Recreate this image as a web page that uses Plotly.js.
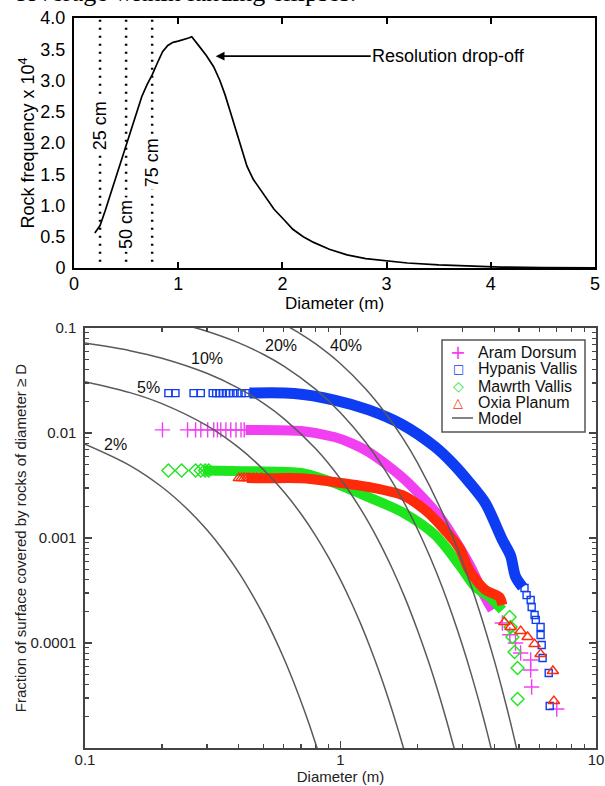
<!DOCTYPE html>
<html><head><meta charset="utf-8">
<script src="https://cdn.plot.ly/plotly-3.0.1.min.js"></script>
<style>html,body{margin:0;padding:0;background:#fff}#chart{width:605px;height:786px}</style>
</head><body><div id="chart"></div>
<script>
// ---------- Top panel: rock size-frequency ----------
const freqDiameter = [0.20,0.25,0.30,0.35,0.40,0.45,0.50,0.55,0.60,0.65,0.70,0.75,0.80,0.85,0.90,0.95,1.00,1.05,1.10,1.13,1.17,1.21,1.27,1.34,1.40,1.45,1.50,1.55,1.60,1.66,1.72,1.79,1.85,1.92,2.00,2.10,2.20,2.30,2.45,2.62,2.80,3.00,3.20,3.50,3.80,4.10,4.50,5.00];
const freqValue    = [0.56,0.68,0.92,1.18,1.43,1.69,1.94,2.20,2.46,2.74,2.93,3.09,3.28,3.46,3.56,3.61,3.63,3.65,3.68,3.70,3.62,3.53,3.40,3.22,3.00,2.77,2.50,2.22,1.95,1.63,1.42,1.25,1.10,0.94,0.80,0.62,0.50,0.41,0.30,0.21,0.15,0.11,0.08,0.05,0.03,0.015,0.008,0.004];
const resolutionLines  = [0.25, 0.5, 0.75];
const resolutionLabels = ['25 cm', '50 cm', '75 cm'];
const topYTicks = [0,0.5,1,1.5,2,2.5,3,3.5,4];
const topYTickText = ['0','0.5','1.0','1.5','2.0','2.5','3.0','3.5','4.0'];

// ---------- Bottom panel: cumulative fractional area ----------
const seriesNames = ['Aram Dorsum','Hypanis Vallis','Mawrth Vallis','Oxia Planum'];

const aramPtsD  = [0.201,0.252,0.271,0.284,0.302,0.319,0.330,0.340,0.356,0.372,0.390,0.408,0.420,4.30,4.60,4.84,5.07,5.55,5.55,5.60,7.02];
const aramPtsF  = [0.0107,0.0107,0.0107,0.0107,0.0107,0.0107,0.0107,0.0107,0.0107,0.0107,0.0107,0.0107,0.0107,0.000155,0.00012,0.0001,0.0000803,0.0000689,0.0000553,0.0000381,0.0000235];
const aramBandD = [0.425,0.702,0.946,1.10,1.289,1.738,2.14,2.50,2.92,3.28,3.59,3.93];
const aramBandF = [0.0107,0.01045,0.00916,0.0080,0.00659,0.00381,0.0023,0.00148,0.00082,0.000495,0.000306,0.000206];

const hypPtsD  = [0.212,0.226,0.266,0.284,0.316,0.326,0.336,0.346,0.356,0.366,0.380,0.395,0.410,0.425,5.25,5.35,5.55,5.60,5.75,5.81,6.07,6.07,6.13,6.18,6.53,6.59];
const hypPtsF  = [0.024,0.024,0.024,0.024,0.024,0.024,0.024,0.024,0.024,0.024,0.024,0.024,0.024,0.024,0.000334,0.000286,0.000257,0.00022,0.000185,0.000166,0.000142,0.000119,0.0000957,0.0000719,0.0000518,0.0000251];
const hypBandD = [0.44,0.659,0.946,1.289,1.738,2.344,2.736,3.19,3.69,4.30,4.63,4.84,5.16];
const hypBandF = [0.024,0.0238,0.0206,0.0166,0.0121,0.0074,0.0052,0.0034,0.00215,0.00096,0.00068,0.00043,0.00034];

const mawPtsD  = [0.212,0.239,0.271,0.284,0.295,0.305,4.59,4.63,4.71,4.80,4.93,4.93];
const mawPtsF  = [0.00440,0.00440,0.00440,0.00440,0.00440,0.00440,0.000177,0.000142,0.000114,0.000082,0.0000578,0.0000293];
const mawBandD = [0.29,0.447,0.702,0.946,1.289,1.738,2.344,2.92,3.37,3.83,4.30];
const mawBandF = [0.00440,0.00432,0.00416,0.00334,0.00245,0.00177,0.00107,0.000553,0.000341,0.000274,0.000206];

const oxiPtsD  = [0.40,0.41,0.42,0.43,0.44,0.455,0.47,0.49,4.38,4.63,5.07,5.40,5.75,6.07,6.78,6.84];
const oxiPtsF  = [0.00372,0.00372,0.00372,0.00372,0.00372,0.00372,0.00372,0.00372,0.000158,0.000142,0.00013,0.000114,0.0000977,0.0000785,0.0000541,0.000028];
const oxiBandD = [0.43,0.521,0.702,0.946,1.289,1.738,2.14,2.50,2.92,3.19,3.69,4.19,4.30];
const oxiBandF = [0.00372,0.00371,0.00370,0.00341,0.00306,0.00257,0.00185,0.00127,0.000803,0.000495,0.00032,0.000274,0.00023];

// Model curves (rock abundance k)
const modelLabels = ['2%','5%','10%','20%','40%'];
const model2D  = [0.10,0.15,0.20,0.25,0.30,0.35,0.40,0.45,0.50,0.55,0.60,0.65,0.70,0.75,0.80,0.85];
const model2F  = [0.00782,0.00489,0.00306,0.00191,0.001196,0.000748,0.000468,0.000292,0.000183,0.0001143,0.0000715,0.0000447,0.0000279,0.0000175,0.0000109,0.00000683];
const model5D  = [0.10,0.15,0.20,0.30,0.40,0.50,0.60,0.70,0.80,0.90,1.0,1.1,1.2,1.3,1.4,1.5,1.6,1.7,1.8];
const model5F  = [0.03084,0.02423,0.01903,0.01174,0.007245,0.004468,0.002756,0.0017,0.001049,0.000647,0.000399,0.000246,0.000152,0.0000937,0.0000578,0.0000357,0.000022,0.0000136,0.0000084];
const model10D = [0.10,0.15,0.20,0.30,0.40,0.50,0.60,0.80,1.0,1.2,1.4,1.6,1.8,2.0,2.2,2.4,2.6,2.8];
const model10F = [0.07182,0.06087,0.05158,0.03705,0.02661,0.01911,0.01372,0.007078,0.003652,0.001884,0.000972,0.000501,0.000259,0.000133,0.0000688,0.0000355,0.0000183,0.00000945];
const model20D = [0.25,0.30,0.40,0.50,0.60,0.80,1.0,1.25,1.5,1.75,2.0,2.25,2.5,2.75,3.0,3.25,3.5,3.75,4.0];
const model20F = [0.1057,0.09306,0.07213,0.05589,0.0433,0.026,0.01562,0.008252,0.004362,0.002305,0.001219,0.000644,0.000341,0.00018,0.0000952,0.0000503,0.0000266,0.0000141,0.00000744];
const model40D = [0.60,0.70,0.80,1.0,1.25,1.5,1.75,2.0,2.5,3.0,3.5,4.0,4.25,4.5,4.75,5.0];
const model40F = [0.1088,0.08757,0.07049,0.04566,0.02654,0.01543,0.00897,0.005215,0.001762,0.000596,0.000201,0.000068,0.0000395,0.000023,0.0000134,0.00000777];

const bottomXTicks = [0.1,1,10];
const bottomXTickText = ['0.1','1','10'];
const bottomYTicks = [0.0001,0.001,0.01,0.1];
const bottomYTickText = ['0.0001','0.001','0.01','0.1'];

// ---------- styling ----------
const SANS = 'Liberation Sans, Arial, Helvetica, sans-serif';
const colors = {aram:'#f23ff2', hyp:'#0d3cf2', maw:'#1ee61e', oxi:'#ff2a0a', model:'#5a5a5a'};

const minorX = [];
[0.1,1].forEach(d=>{for(let m=2;m<=9;m++) minorX.push(+(d*m).toPrecision(3));});
const minorY = [];
[1e-5,1e-4,1e-3,1e-2].forEach(d=>{for(let m=2;m<=9;m++) minorY.push(+(d*m).toPrecision(3));});

const traces = [];
// top curve
traces.push({x:freqDiameter, y:freqValue, xaxis:'x', yaxis:'y', type:'scatter', mode:'lines',
  line:{color:'#000', width:1.7}, showlegend:false, hoverinfo:'skip'});

function band(D,F,color,w,name){
  return {x:D, y:F, xaxis:'x2', yaxis:'y2', type:'scatter', mode:'lines', name:name,
    line:{color:color, width:w, shape:'spline', smoothing:0.8}, showlegend:false, hoverinfo:'skip'};
}
function pts(D,F,color,symbol,size,name){
  return {x:D, y:F, xaxis:'x2', yaxis:'y2', type:'scatter', mode:'markers', name:name,
    marker:{symbol:symbol, size:size, color:color, line:{color:color, width:1.4}}, showlegend:false};
}
traces.push(band(aramBandD, aramBandF, colors.aram, 10, seriesNames[0]));
traces.push(pts(aramPtsD, aramPtsF, colors.aram, 'cross-thin-open', 11, seriesNames[0]));
traces.push(band(hypBandD, hypBandF, colors.hyp, 11, seriesNames[1]));
traces.push(pts(hypPtsD, hypPtsF, colors.hyp, 'square-open', 7, seriesNames[1]));
traces.push(band(mawBandD, mawBandF, colors.maw, 10, seriesNames[2]));
traces.push(pts(mawPtsD, mawPtsF, colors.maw, 'diamond-open', 10, seriesNames[2]));
traces.push(band(oxiBandD, oxiBandF, colors.oxi, 10, seriesNames[3]));
traces.push(pts(oxiPtsD, oxiPtsF, colors.oxi, 'triangle-up-open', 10, seriesNames[3]));

const modelD = [model2D, model5D, model10D, model20D, model40D];
const modelF = [model2F, model5F, model10F, model20F, model40F];
modelD.forEach((D,i)=>{
  traces.push({x:D, y:modelF[i], xaxis:'x2', yaxis:'y2', type:'scatter', mode:'lines',
    name:'Model '+modelLabels[i], line:{color:colors.model, width:1.5, shape:'spline', smoothing:1},
    showlegend:false, hoverinfo:'skip'});
});

// ---------- layout ----------
const W = 605, H = 786;
const px = v => v / W;
const py = v => (H - v) / H;

const shapes = [];
resolutionLines.forEach(v=>{
  shapes.push({type:'line', xref:'x', yref:'y', x0:v, x1:v, y0:0.1, y1:3.98,
    line:{color:'#000', width:2.5, dash:'2px,6px'}});
});
// manual legend box
shapes.push({type:'rect', xref:'paper', yref:'paper', x0:px(442), x1:px(585), y0:py(432), y1:py(340),
  line:{color:'#555', width:1.5}, fillcolor:'#fff', layer:'above'});
shapes.push({type:'line', xref:'paper', yref:'paper', x0:px(452), x1:px(473), y0:py(418), y1:py(418),
  line:{color:colors.model, width:1.5}, layer:'above'});

const annotations = [];
// cut-off caption fragment at top
annotations.push({xref:'paper', yref:'paper', x:px(12), y:py(9), xanchor:'left', yanchor:'bottom',
  text:'coverage within landing ellipses.', showarrow:false,
  font:{family:'Liberation Serif, Times New Roman, serif', size:26, color:'#000'}});
const resLabelY = [2.27, 0.69, 1.68];
resolutionLabels.forEach((t,i)=>{
  annotations.push({xref:'x', yref:'y', x:resolutionLines[i], y:resLabelY[i], text:t, textangle:-90,
    showarrow:false, bgcolor:'#fff', borderpad:2, font:{family:SANS, size:18, color:'#000'}});
});
annotations.push({xref:'x', yref:'y', x:1.36, y:3.39, text:'Resolution drop-off', showarrow:true,
  arrowhead:2, arrowsize:1.1, arrowwidth:1.6, arrowcolor:'#000', ax:233, ay:0, standoff:0,
  font:{family:SANS, size:18, color:'#000'}});
// model labels (log coordinates)
const modelLabelPos = [[-0.882,-2.114],[-0.752,-1.571],[-0.524,-1.295],[-0.232,-1.162],[0.0197,-1.162]];
modelLabels.forEach((t,i)=>{
  annotations.push({xref:'x2', yref:'y2', x:modelLabelPos[i][0], y:modelLabelPos[i][1], text:t,
    showarrow:false, font:{family:SANS, size:16, color:'#111'}});
});
// manual legend entries
const legRows = [352, 369, 386, 402, 418];
const legNames = seriesNames.concat(['Model']);
const legGlyph = [
  {t:'+', c:colors.aram, s:19},
  {t:'\u25A1', c:colors.hyp, s:12},
  {t:'\u25C7', c:colors.maw, s:14},
  {t:'\u25B3', c:colors.oxi, s:13}
];
legNames.forEach((n,i)=>{
  annotations.push({xref:'paper', yref:'paper', x:px(476), y:py(legRows[i]), xanchor:'left', yanchor:'middle',
    text:n, showarrow:false, font:{family:SANS, size:16, color:'#111'}});
  if(i<4){
    annotations.push({xref:'paper', yref:'paper', x:px(458), y:py(legRows[i]), xanchor:'center', yanchor:'middle',
      text:legGlyph[i].t, showarrow:false, font:{family:'DejaVu Sans, sans-serif', size:legGlyph[i].s, color:legGlyph[i].c}});
  }
});

const layout = {
  width:W, height:H, margin:{l:0,r:0,t:0,b:0}, paper_bgcolor:'#fff', plot_bgcolor:'#fff',
  showlegend:false, font:{family:SANS, color:'#000'},
  xaxis:{domain:[px(74), px(595)], anchor:'y', range:[0,5], tickvals:[0,1,2,3,4,5],
    ticks:'inside', ticklen:6, tickwidth:2, tickcolor:'#000', showline:true, linecolor:'#000', linewidth:2,
    mirror:'ticks', showgrid:false, zeroline:false, tickfont:{size:18, family:SANS, color:'#000'},
    ticklabelstandoff:-2,
    title:{text:'Diameter (m)', font:{size:17, family:SANS, color:'#000'}, standoff:0}},
  yaxis:{domain:[py(268), py(18)], anchor:'x', range:[0,4], tickvals:topYTicks, ticktext:topYTickText,
    ticks:'', showline:true, linecolor:'#000', linewidth:2, mirror:true, showgrid:false, zeroline:false,
    tickfont:{size:18, family:SANS, color:'#000'}, ticklabelstandoff:3,
    title:{text:'Rock frequency x 10<sup>4</sup>', font:{size:18, family:SANS, color:'#000'}, standoff:1}},
  xaxis2:{domain:[px(85), px(596)], anchor:'y2', type:'log', range:[-1,1], tickvals:bottomXTicks, ticktext:bottomXTickText,
    ticks:'inside', ticklen:7, tickwidth:1.5, tickcolor:'#444', showline:true, linecolor:'#444', linewidth:1.6,
    mirror:'ticks', showgrid:false, zeroline:false, tickfont:{size:15, family:SANS, color:'#222'},
    ticklabelstandoff:-3,
    minor:{tickmode:'array', tickvals:minorX, ticks:'inside', ticklen:4, tickwidth:1.2, tickcolor:'#444', showgrid:false},
    title:{text:'Diameter (m)', font:{size:15, family:SANS, color:'#222'}, standoff:4}},
  yaxis2:{domain:[py(748), py(328)], anchor:'x2', type:'log', range:[-5,-1], tickvals:bottomYTicks, ticktext:bottomYTickText,
    ticks:'inside', ticklen:7, tickwidth:1.5, tickcolor:'#444', showline:true, linecolor:'#444', linewidth:1.6,
    mirror:'ticks', showgrid:false, zeroline:false, tickfont:{size:15, family:SANS, color:'#222'},
    ticklabelstandoff:4,
    minor:{tickmode:'array', tickvals:minorY, ticks:'inside', ticklen:4, tickwidth:1.2, tickcolor:'#444', showgrid:false},
    title:{text:'Fraction of surface covered by rocks of diameter \u2265 D', font:{size:15, family:SANS, color:'#222'}, standoff:0}},
  shapes:shapes, annotations:annotations
};

Plotly.newPlot('chart', traces, layout, {staticPlot:true, displayModeBar:false});
</script>
</body></html>
